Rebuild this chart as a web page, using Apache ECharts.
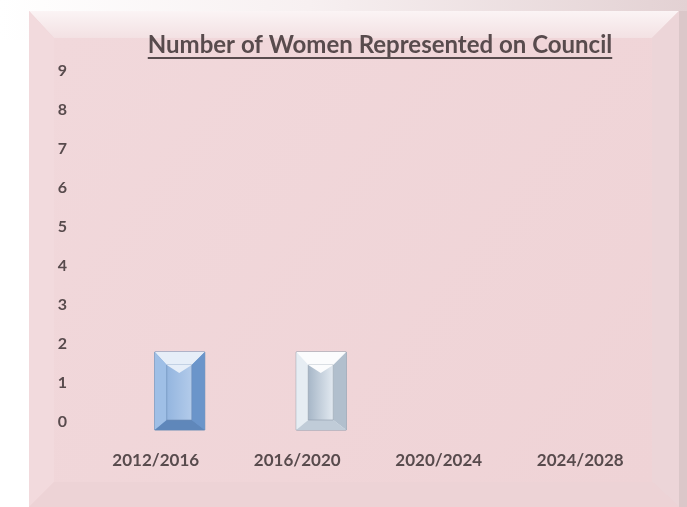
<!DOCTYPE html>
<html>
<head>
<meta charset="utf-8">
<script src="https://cdn.jsdelivr.net/npm/echarts@6/dist/echarts.min.js"></script>
<style>
  html, body { margin: 0; padding: 0; background: #ffffff; }
  #chart { width: 687px; height: 507px; }
</style>
</head>
<body>
<div id="chart"></div>
<script>
// 数据
const chartTitle = 'Number of Women Represented on Council'
const terms = ['2012/2016', '2016/2020', '2020/2024', '2024/2028']
const womenCount = [2, 2, '-', '-']
const yMin = 0
const yMax = 9
const yStep = 1

// 柱子配色（斜面效果）
const barPalettes = [
  { face: '#7ba6da', top: '#e6eef8', left: '#9fbfe6', right: '#6b95ca', bottom: '#5f87ba', inner: ['#93b5df', '#b3cbea'], edge: '#6f8fb5' },
  { face: '#eef3f7', top: '#fbfcfd', left: '#e6edf3', right: '#b1bfcd', bottom: '#c0ccd8', inner: ['#a6b6c7', '#e3eaf1'], edge: '#8e9cab' }
]

const textColor = '#584b4d'
const fontFamily = 'Lato, "Open Sans", sans-serif'

const chart = echarts.init(document.getElementById('chart'), null, { renderer: 'canvas' })

// 标题下划线宽度
const titleFont = 'bold 24px ' + fontFamily
const measureCtx = document.createElement('canvas').getContext('2d')
measureCtx.font = titleFont
const titleWidth = measureCtx.measureText(chartTitle).width
const titleX = 380
const titleY = 45

// 绘制斜面柱子
const renderBevelBar = (params, api) => {
  const v = api.value(1)
  if (isNaN(v) || !v) return null
  const idx = api.value(0)
  const pal = barPalettes[idx % barPalettes.length]
  const base = api.coord([idx, 0])
  const topPt = api.coord([idx, v])
  const cx = base[0] + 24
  const x0 = cx - 25
  const x1 = cx + 25
  const y0 = topPt[1]
  const y1 = base[1]
  const ix0 = x0 + 12
  const ix1 = x1 - 13
  const iy0 = y0 + 13
  const iy1 = y1 - 10
  const poly = (points, fill) => ({ type: 'polygon', shape: { points }, style: { fill } })
  return {
    type: 'group',
    children: [
      { type: 'rect', shape: { x: x0, y: y0, width: x1 - x0, height: y1 - y0 }, style: { fill: pal.face, stroke: pal.edge, lineWidth: 1 } },
      poly([[x0, y0], [x1, y0], [ix1, iy0], [ix0, iy0]], pal.top),
      poly([[x0, y0], [ix0, iy0], [ix0, iy1], [x0, y1]], pal.left),
      poly([[x1, y0], [x1, y1], [ix1, iy1], [ix1, iy0]], pal.right),
      poly([[x0, y1], [ix0, iy1], [ix1, iy1], [x1, y1]], pal.bottom),
      {
        type: 'rect',
        shape: { x: ix0, y: iy0, width: ix1 - ix0, height: iy1 - iy0 },
        style: {
          fill: new echarts.graphic.LinearGradient(0, 0, 1, 0, [
            { offset: 0, color: pal.inner[0] },
            { offset: 1, color: pal.inner[1] }
          ]),
          stroke: pal.edge,
          lineWidth: 0.6
        }
      },
      poly([[ix0, iy0], [ix1, iy0], [(ix0 + ix1) / 2, iy0 + 8]], pal.top)
    ]
  }
}

const option = {
  backgroundColor: '#ffffff',
  animation: false,
  graphic: [
    // 背景和面板斜面
    {
      type: 'rect', z: -10, silent: true,
      shape: { x: 0, y: 0, width: 687, height: 507 },
      style: {
        fill: new echarts.graphic.LinearGradient(0, 0, 1, 0, [
          { offset: 0, color: '#ffffff' },
          { offset: 0.45, color: '#f7f0f1' },
          { offset: 1, color: '#e3d1d3' }
        ])
      }
    },
    {
      type: 'rect', z: -9, silent: true,
      shape: { x: 0, y: 40, width: 29, height: 467 },
      style: { fill: '#ffffff' }
    },
    {
      type: 'rect', z: -9, silent: true,
      shape: { x: 679, y: 11, width: 8, height: 496 },
      style: { fill: '#dbc7c9' }
    },
    {
      type: 'rect', z: -8, silent: true,
      shape: { x: 29, y: 11, width: 650, height: 496 },
      style: { fill: '#efd4d7' }
    },
    {
      type: 'polygon', z: -7, silent: true,
      shape: { points: [[29, 11], [679, 11], [652, 38], [54, 38]] },
      style: {
        fill: new echarts.graphic.LinearGradient(0, 0, 0, 1, [
          { offset: 0, color: '#fbf4f5' },
          { offset: 1, color: '#f3e1e3' }
        ])
      }
    },
    {
      type: 'polygon', z: -7, silent: true,
      shape: { points: [[29, 11], [54, 38], [54, 482], [29, 507]] },
      style: { fill: '#f2dadd' }
    },
    {
      type: 'polygon', z: -7, silent: true,
      shape: { points: [[679, 11], [679, 507], [652, 482], [652, 38]] },
      style: { fill: '#ecd5d8' }
    },
    {
      type: 'polygon', z: -7, silent: true,
      shape: { points: [[29, 507], [54, 482], [652, 482], [679, 507]] },
      style: { fill: '#edd3d6' }
    },
    {
      type: 'rect', z: -6, silent: true,
      shape: { x: 54, y: 38, width: 598, height: 444 },
      style: {
        fill: new echarts.graphic.LinearGradient(0, 0, 1, 1, [
          { offset: 0, color: '#f1d8db' },
          { offset: 1, color: '#efd3d6' }
        ])
      }
    },
    // 标题（带下划线）
    {
      type: 'text', z: 10, silent: true,
      x: titleX, y: titleY,
      style: {
        text: chartTitle,
        fill: textColor,
        font: titleFont,
        align: 'center',
        verticalAlign: 'middle'
      }
    },
    {
      type: 'rect', z: 10, silent: true,
      shape: { x: titleX - titleWidth / 2, y: titleY + 12, width: titleWidth, height: 2 },
      style: { fill: textColor }
    }
  ],
  grid: {
    left: 85,
    right: 36,
    top: 79,
    bottom: 77
  },
  xAxis: {
    type: 'category',
    data: terms,
    axisLine: { show: false },
    axisTick: { show: false },
    splitLine: { show: false },
    axisLabel: {
      color: textColor,
      fontFamily: fontFamily,
      fontWeight: 'bold',
      fontSize: 17,
      margin: 22
    }
  },
  yAxis: {
    type: 'value',
    min: yMin,
    max: yMax,
    interval: yStep,
    axisLine: { show: false },
    axisTick: { show: false },
    splitLine: { show: false },
    axisLabel: {
      color: textColor,
      fontFamily: fontFamily,
      fontWeight: 'bold',
      fontSize: 16,
      margin: 18,
      verticalAlign: 'bottom',
      lineHeight: 16
    }
  },
  series: [
    {
      name: 'Women',
      type: 'custom',
      renderItem: renderBevelBar,
      encode: { x: 0, y: 1 },
      data: terms.map((t, i) => [i, womenCount[i]])
    }
  ]
}

chart.setOption(option)
window.addEventListener('resize', () => chart.resize())
</script>
</body>
</html>
